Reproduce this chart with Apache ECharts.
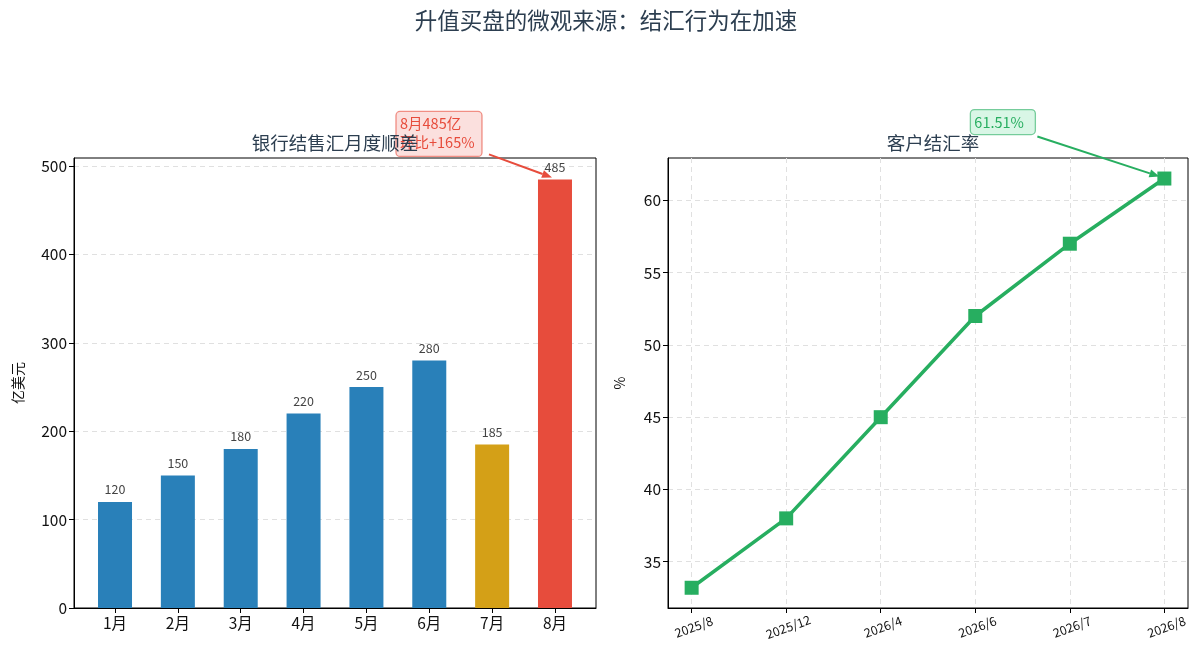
<!DOCTYPE html>
<html>
<head>
<meta charset="utf-8">
<title>结汇行为在加速</title>
<script src="https://cdn.jsdelivr.net/npm/echarts@6/dist/echarts.min.js"></script>
<style>
    html, body { margin: 0; padding: 0; background: #fff; }
    #main { width: 1200px; height: 661px; }
</style>
</head>
<body>
<div id="main"></div>
<script>
// 左图：银行结售汇月度顺差（亿美元）
const months = ['1月', '2月', '3月', '4月', '5月', '6月', '7月', '8月'];
const surplus = [120, 150, 180, 220, 250, 280, 185, 485];
const surplusTicks = [0, 100, 200, 300, 400, 500];

// 右图：客户结汇率（%）
const periods = ['2025/8', '2025/12', '2026/4', '2026/6', '2026/7', '2026/8'];
const rate = [33.2, 38, 45, 52, 57, 61.51];
const rateTicks = [35, 40, 45, 50, 55, 60];

(function () {
    const FONT = '"Noto Sans CJK SC", "Noto Sans", sans-serif';
    const BLUE = '#2980b9', GOLD = '#d4a017', RED = '#e74c3c', GREEN = '#27ae60';
    let myChart = echarts.init(document.getElementById('main'));

    // 坐标轴公共样式
    function axisStyle() {
        return {
            axisLine: { show: true, onZero: false, lineStyle: { color: '#000', width: 1 } },
            axisTick: { show: true, inside: false, length: 5, lineStyle: { color: '#000' } },
            axisLabel: { color: '#111', fontSize: 15.5, fontFamily: FONT, margin: 7 }
        };
    }
    const gridLine = { show: true, lineStyle: { color: '#e0e0e0', type: [5, 4], width: 1 } };

    let option = {
        animation: false,
        textStyle: { fontFamily: FONT },
        title: [
            { text: '升值买盘的微观来源：结汇行为在加速', left: 601, top: 4, textAlign: 'center', z: 10,
              textStyle: { fontSize: 22.5, fontWeight: 'normal', color: '#2c3e50', fontFamily: FONT } },
            { text: '银行结售汇月度顺差', left: 330, top: 129, textAlign: 'center', z: 10,
              textStyle: { fontSize: 18.5, fontWeight: 'normal', color: '#2c3e50', fontFamily: FONT } },
            { text: '客户结汇率', left: 928, top: 129, textAlign: 'center', z: 10,
              textStyle: { fontSize: 18.5, fontWeight: 'normal', color: '#2c3e50', fontFamily: FONT } }
        ],
        grid: [
            { left: 74, right: 604, top: 158, bottom: 53, show: true, borderColor: '#000', borderWidth: 1 },
            { left: 668, right: 12, top: 158, bottom: 53, show: true, borderColor: '#000', borderWidth: 1 }
        ],
        xAxis: [
            Object.assign(axisStyle(), {
                type: 'value', gridIndex: 0, min: -0.6525, max: 7.6525,
                splitLine: { show: false }
            }),
            Object.assign(axisStyle(), {
                type: 'value', gridIndex: 1, min: -0.25, max: 5.25,
                splitLine: gridLine
            })
        ],
        yAxis: [
            Object.assign(axisStyle(), {
                type: 'value', gridIndex: 0, min: 0, max: 509.25,
                name: '亿美元', nameLocation: 'middle', nameRotate: 90, nameGap: 49,
                nameTextStyle: { fontSize: 14, color: '#111', fontFamily: FONT },
                splitLine: gridLine
            }),
            Object.assign(axisStyle(), {
                type: 'value', gridIndex: 1, min: 31.8, max: 62.93,
                name: '%', nameLocation: 'middle', nameRotate: 90, nameGap: 41,
                nameTextStyle: { fontSize: 14, color: '#111', fontFamily: FONT },
                splitLine: gridLine
            })
        ],
        series: [
            {
                type: 'bar', xAxisIndex: 0, yAxisIndex: 0, barWidth: 34,
                data: surplus.map((v, i) => [i, v]),
                itemStyle: {
                    color: function (p) {
                        if (p.dataIndex === 7) return RED;
                        if (p.dataIndex === 6) return GOLD;
                        return BLUE;
                    }
                },
                label: {
                    show: true, position: 'top', distance: 6, fontSize: 12.5, color: '#444',
                    formatter: p => p.value[1]
                }
            },
            {
                type: 'line', xAxisIndex: 1, yAxisIndex: 1,
                data: rate.map((v, i) => [i, v]),
                lineStyle: { color: GREEN, width: 3.5 },
                itemStyle: { color: GREEN },
                symbol: 'rect', symbolSize: 14, z: 5
            }
        ]
    };

    // 刻度只放在指定位置
    option.xAxis[0].axisTick.customValues = months.map((m, i) => i);
    option.xAxis[0].axisLabel.customValues = months.map((m, i) => i);
    option.xAxis[0].axisLabel.formatter = v => months[Math.round(v)];
    option.xAxis[1].axisTick.customValues = periods.map((m, i) => i);
    option.xAxis[1].axisLabel.customValues = periods.map((m, i) => i);
    option.xAxis[1].axisLabel.formatter = v => periods[Math.round(v)];
    Object.assign(option.xAxis[1].axisLabel, { rotate: 20, fontSize: 12.5, align: 'center', verticalAlign: 'top', margin: 13 });
    option.yAxis[0].axisTick.customValues = surplusTicks;
    option.yAxis[0].axisLabel.customValues = surplusTicks;
    option.yAxis[1].axisTick.customValues = rateTicks;
    option.yAxis[1].axisLabel.customValues = rateTicks;

    myChart.setOption(option);

    // 注释框 + 箭头
    function arrow(x1, y1, x2, y2, color) {
        let ang = Math.atan2(y2 - y1, x2 - x1), L = 10, W = 4;
        let bx = x2 - L * Math.cos(ang), by = y2 - L * Math.sin(ang);
        let nx = -Math.sin(ang) * W, ny = Math.cos(ang) * W;
        return [
            { type: 'line', z: 20, shape: { x1: x1, y1: y1, x2: bx, y2: by }, style: { stroke: color, lineWidth: 2 } },
            { type: 'polygon', z: 20, shape: { points: [[x2, y2], [bx + nx, by + ny], [bx - nx, by - ny]] }, style: { fill: color } }
        ];
    }
    function note(p, box, text, color, fill, stroke, from, to) {
        return [
            { type: 'rect', z: 1, shape: { x: p[0] + box[0], y: p[1] + box[1], width: box[2], height: box[3], r: 4 },
              style: { fill: fill, stroke: stroke, lineWidth: 1.3 } },
            { type: 'text', z: 2, x: p[0] + box[0] + 4, y: p[1] + box[1] + 3,
              style: { text: text, fill: color, font: '14.5px ' + FONT, lineHeight: 19 } }
        ].concat(arrow(p[0] + from[0], p[1] + from[1], p[0] + to[0], p[1] + to[1], color));
    }
    let pBar = myChart.convertToPixel({ gridIndex: 0 }, [7, surplus[7]]);
    let pRate = myChart.convertToPixel({ gridIndex: 1 }, [5, rate[5]]);
    myChart.setOption({
        graphic: note(pBar, [-159, -68, 86, 45], '8月485亿\n环比+165%', RED,
                      'rgba(250,219,216,0.85)', 'rgba(231,76,60,0.6)', [-66, -25], [-3, -2])
            .concat(note(pRate, [-194, -69, 65, 25], '61.51%', GREEN,
                      'rgba(213,245,227,0.9)', 'rgba(39,174,96,0.6)', [-127, -42], [-5, -2]))
    });

    window.addEventListener('resize', function () {
        myChart.resize();
    });
})();
</script>
</body>
</html>
